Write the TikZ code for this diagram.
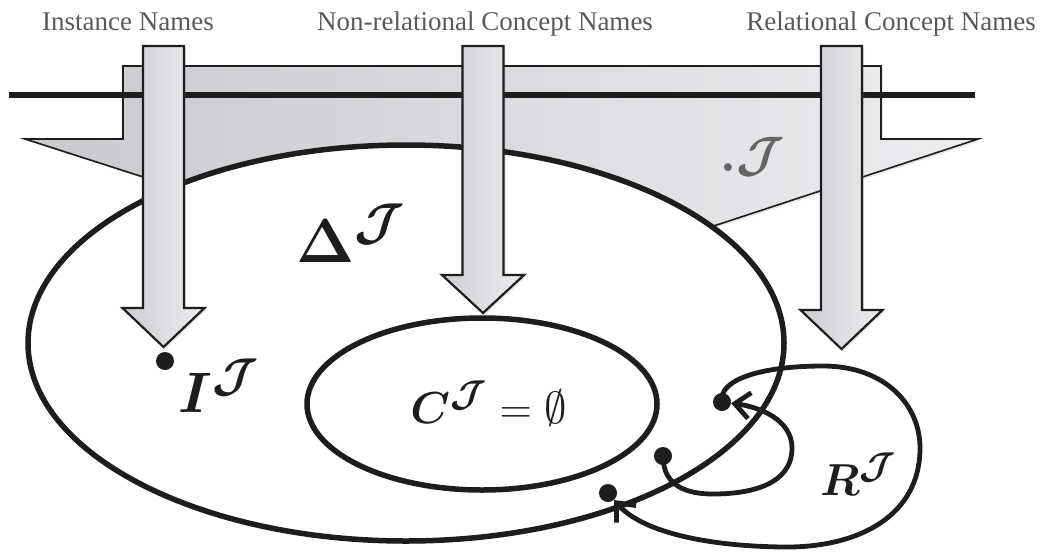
\documentclass[tikz,border=0pt]{standalone}
\usepackage{amsmath,bm}
\usepackage{fontspec}
\newfontfamily\labelfont{Liberation Serif}
\usetikzlibrary{arrows.meta,shadows}
\definecolor{funL}{RGB}{200,201,204}
\definecolor{funR}{RGB}{236,237,239}
\definecolor{arrL}{RGB}{205,206,209}
\definecolor{arrR}{RGB}{235,236,238}
\definecolor{txtgray}{RGB}{89,89,89}
\definecolor{jgray}{RGB}{100,100,100}
\definecolor{ink}{RGB}{30,28,28}
\begin{document}
\begin{tikzpicture}[x=1pt,y=-1pt,
  funnel/.style={draw=ink, line width=1.6pt, line join=miter, left color=funL, right color=funR,
    drop shadow={shadow xshift=2pt, shadow yshift=-2pt, opacity=0.2}},
  hline/.style={draw=ink, line width=6pt},
  thickline/.style={draw=ink, line width=5.5pt},
  blockarrow/.style={draw=ink, line width=2.2pt, line join=miter, left color=arrL, right color=arrR,
    drop shadow={shadow xshift=2pt, shadow yshift=-2pt, opacity=0.2}},
  rel/.style={draw=ink, line width=4.8pt, line cap=round},
  reltip/.style={-{Straight Barb[length=15pt,width=26pt]}},
  dot/.style={circle, fill=ink, inner sep=0pt, minimum size=18pt},
  toplabel/.style={font={\labelfont\fontsize{27}{32}\selectfont}, text=txtgray, anchor=base, inner sep=0pt},
  mathlabel/.style={font=\Huge, anchor=base west, inner sep=0pt, text=ink}
]
\useasboundingbox (0,0) rectangle (1051,552);
% mapping funnel
\path[funnel] (123,66) -- (881,66) -- (881,139) -- (978,139) -- (507,294) -- (25,139) -- (123,139) -- cycle;
\draw[hline] (9,95) -- (975,95);
% domain and concept
\draw[thickline, fill=white] (406,343) ellipse [x radius=378pt, y radius=198pt];
\draw[thickline] (482,404) ellipse [x radius=175pt, y radius=86pt];
% block arrows
\foreach \cx/\sh/\tp in {163.5/308/347, 483/275/313, 841.5/310/349}{
  \path[blockarrow] ({\cx-20.5},46) -- ({\cx+20.5},46) -- ({\cx+20.5},\sh) -- ({\cx+41},\sh)
     -- (\cx,\tp) -- ({\cx-41},\sh) -- ({\cx-20.5},\sh) -- cycle;
}
% elements
\node[dot] (dI) at (165,361) {};
\node[dot] (dA) at (722,402) {};
\node[dot] (dB) at (663,456) {};
\node[dot] (dC) at (608,493) {};
% relation
\draw[rel, reltip] (dB.center) .. controls (663,488) and (690,494) .. (713,494)
   .. controls (750,494) and (792,485) .. (792,448)
   .. controls (792,420) and (760,407) .. (dA);
\draw[rel, reltip] (dA.center) .. controls (718,380) and (760,366) .. (823,366)
   .. controls (885,366) and (921,405) .. (920,450)
   .. controls (919,515) and (860,548) .. (783,547)
   .. controls (700,546) and (640,530) .. (dC);
% labels
\node[toplabel] (l1) at (128,30) {Instance Names};
\node[toplabel] (l2) at (485,30) {Non-relational Concept Names};
\node[toplabel] (l3) at (891,30) {Relational Concept Names};
\node[mathlabel, scale=2.29] (lI) at (178,412) {$\bm{I^{\mathcal{J}}}$};
\node[mathlabel, scale=2.5] (lD) at (296,262) {$\bm{\Delta}^{\bm{\mathcal{J}}}$};
\node[mathlabel, scale=1.8] (lC) at (410,423) {$\bm{C^{\mathcal{J}}} = \emptyset$};
\node[mathlabel, scale=1.8] (lR) at (820,495) {$\bm{R^{\mathcal{J}}}$};
\node[mathlabel, scale=2.0, text=jgray] (lM) at (720,171) {$\bm{.\mathcal{J}}$};
\end{tikzpicture}
\end{document}
